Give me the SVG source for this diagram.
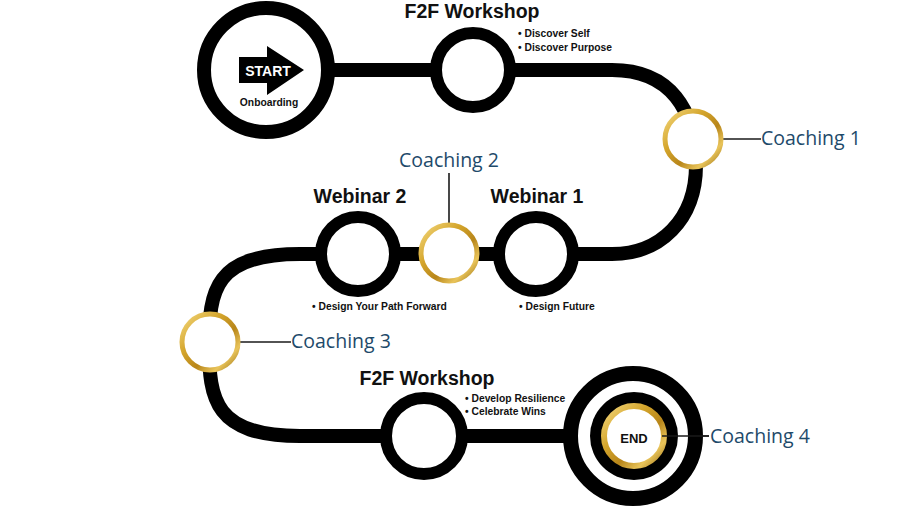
<svg xmlns="http://www.w3.org/2000/svg" width="899" height="507" viewBox="0 0 899 507">
<defs>
<linearGradient id="gold" x1="0" y1="0" x2="1" y2="1">
<stop offset="0" stop-color="#f3d77c"/>
<stop offset="0.35" stop-color="#d4a52c"/>
<stop offset="0.6" stop-color="#b8861a"/>
<stop offset="0.8" stop-color="#e9c45a"/>
<stop offset="1" stop-color="#9c7214"/>
</linearGradient>
<style>
.track{fill:none;stroke:#000;stroke-width:14}
.node{fill:#fff;stroke:#000;stroke-width:12}
.goldring{fill:#fff;stroke:url(#gold);stroke-width:5}
.conn{stroke:#1a1a1a;stroke-width:1.6;fill:none}
.title{font-family:"Liberation Sans",Arial,sans-serif;font-weight:bold;font-size:19.5px;fill:#111}
.bullet{font-family:"Liberation Sans",Arial,sans-serif;font-weight:bold;font-size:10.3px;fill:#111}
.coach{font-family:"Open Sans","Liberation Sans",sans-serif;font-size:19.5px;fill:#1e4a6a}
</style>
</defs>
<rect width="899" height="507" fill="#fff"/>
<g id="connectors">
<path class="track" d="M 330 70 H 612 C 670 70 696 110 696 165 C 696 220 660 254 612 254 H 300 C 215 254 209 290 209 345 C 209 400 215 436 300 436 H 570"/>
<line class="conn" x1="723" y1="139" x2="761" y2="139"/>
<line class="conn" x1="449" y1="173" x2="449" y2="224"/>
<line class="conn" x1="239" y1="342" x2="291" y2="342"/>
<line class="conn" x1="662" y1="436" x2="709" y2="436"/>
</g>
<g id="start">
<circle cx="266" cy="70" r="62" fill="#fff" stroke="#000" stroke-width="14"/>
<polygon points="239,57 267,57 267,46 304,70 267,95 267,83 239,83" fill="#000"/>
<text x="268" y="75.5" text-anchor="middle" font-family="Liberation Sans,Arial,sans-serif" font-weight="bold" font-size="14" fill="#fff">START</text>
<text x="269" y="106" text-anchor="middle" class="bullet" font-size="10.5">Onboarding</text>
</g>
<g id="f2f1">
<circle class="node" cx="473" cy="70" r="37"/>
<text class="title" x="472" y="18" text-anchor="middle">F2F Workshop</text>
<text class="bullet" x="518" y="37">•  Discover Self</text>
<text class="bullet" x="518" y="51">•  Discover Purpose</text>
</g>
<g id="coaching1">
<circle class="goldring" cx="693" cy="139" r="28"/>
<text class="coach" x="761" y="145">Coaching 1</text>
</g>
<g id="webinar1">
<circle class="node" cx="536" cy="254" r="37"/>
<text class="title" x="537" y="203" text-anchor="middle">Webinar 1</text>
<text class="bullet" x="519" y="310">•  Design Future</text>
</g>
<g id="coaching2">
<circle class="goldring" cx="449" cy="253" r="28"/>
<text class="coach" x="449" y="167" text-anchor="middle">Coaching 2</text>
</g>
<g id="webinar2">
<circle class="node" cx="358" cy="254" r="37"/>
<text class="title" x="360" y="203" text-anchor="middle">Webinar 2</text>
<text class="bullet" x="312" y="310">•  Design Your Path Forward</text>
</g>
<g id="coaching3">
<circle class="goldring" cx="210" cy="342" r="28"/>
<text class="coach" x="291" y="348">Coaching 3</text>
</g>
<g id="f2f2">
<circle class="node" cx="424" cy="436" r="38"/>
<text class="title" x="427" y="385" text-anchor="middle">F2F Workshop</text>
<text class="bullet" x="465" y="402">•  Develop Resilience</text>
<text class="bullet" x="465" y="415">•  Celebrate Wins</text>
</g>
<g id="end">
<circle cx="633" cy="436" r="62.5" fill="#fff" stroke="#000" stroke-width="15"/>
<circle cx="634" cy="436" r="44" fill="#000"/>
<circle cx="634" cy="436" r="30" fill="#fff" stroke="url(#gold)" stroke-width="6"/>
<text x="634" y="443" text-anchor="middle" font-family="Liberation Sans,Arial,sans-serif" font-weight="bold" font-size="13" fill="#111">END</text>
<line class="conn" x1="662" y1="436" x2="709" y2="436"/>
<text class="coach" x="710" y="443">Coaching 4</text>
</g>
</svg>
